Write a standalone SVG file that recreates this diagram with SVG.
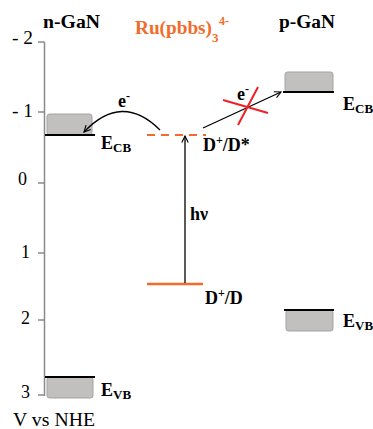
<svg xmlns="http://www.w3.org/2000/svg" width="373" height="429" viewBox="0 0 373 429">
<style>
text{font-family:"Liberation Serif","Times New Roman",serif;fill:#000}
.b{font-weight:bold}
.t{font-size:18px}
.band{fill:#c1c0bf;stroke:#a3a3a3;stroke-width:1}
.lvl{stroke:#000;stroke-width:2}
.ax{stroke:#8a8a8a;stroke-width:1.5;fill:none}
.or{fill:#f26b2a}
</style>
<defs>
<marker id="ah" viewBox="0 0 10 10" refX="9" refY="5" markerWidth="8" markerHeight="8" orient="auto" markerUnits="userSpaceOnUse">
<path d="M1,1 L9,5 L1,9" fill="none" stroke="#000" stroke-width="1.4"/>
</marker>
</defs>
<rect width="373" height="429" fill="#fff"/>
<g id="axis">
<path class="ax" d="M44.5,42 V396 M38,42 H44.5 M38,112 H44.5 M38,183 H44.5 M38,253 H44.5 M38,320 H44.5 M38,395 H44.5"/>
<text class="t" x="12" y="44" textLength="21" lengthAdjust="spacingAndGlyphs">- 2</text>
<text class="t" x="12" y="117" textLength="21" lengthAdjust="spacingAndGlyphs">- 1</text>
<text class="t" x="18" y="185">0</text>
<text class="t" x="21" y="258">1</text>
<text class="t" x="21" y="324">2</text>
<text class="t" x="21" y="398">3</text>
<text class="t" x="13" y="426" textLength="82" lengthAdjust="spacingAndGlyphs">V vs NHE</text>
</g>
<g id="n-GaN">
<text class="b t" x="43" y="28" textLength="57" lengthAdjust="spacingAndGlyphs">n-GaN</text>
<rect class="band" x="47" y="114" width="45" height="21" rx="2.5"/>
<line class="lvl" x1="45" y1="135" x2="95" y2="135"/>
<text class="b" font-size="18" x="101" y="149">E<tspan font-size="13" dy="3">CB</tspan></text>
<rect class="band" x="47" y="377" width="46" height="21" rx="2.5"/>
<line class="lvl" x1="45" y1="377" x2="95" y2="377"/>
<text class="b" font-size="18" x="101" y="396">E<tspan font-size="13" dy="3">VB</tspan></text>
</g>
<g id="dye">
<text class="b t or" x="135" y="34" textLength="77" lengthAdjust="spacingAndGlyphs">Ru(pbbs)</text>
<text class="b or" font-size="13" x="212" y="42">3</text>
<text class="b or" font-size="12" x="219" y="25">4-</text>
<line x1="147" y1="135" x2="206" y2="135" stroke="#f26b2a" stroke-width="2" stroke-dasharray="8,6"/>
<text class="b" font-size="18" x="203" y="151">D<tspan font-size="12" dy="-7">+</tspan><tspan dy="7">/D*</tspan></text>
<line x1="147" y1="284" x2="203" y2="284" stroke="#f26b2a" stroke-width="2.5"/>
<text class="b" font-size="18" x="205" y="304">D<tspan font-size="12" dy="-7">+</tspan><tspan dy="7">/D</tspan></text>
</g>
<g id="p-GaN">
<text class="b t" x="279" y="28" textLength="56" lengthAdjust="spacingAndGlyphs">p-GaN</text>
<rect class="band" x="285" y="72" width="48" height="20" rx="2.5"/>
<line class="lvl" x1="283" y1="92" x2="334" y2="92"/>
<text class="b" font-size="18" x="343" y="110">E<tspan font-size="13" dy="3">CB</tspan></text>
<rect class="band" x="286" y="310" width="47" height="21" rx="2.5"/>
<line class="lvl" x1="284" y1="310" x2="334" y2="310"/>
<text class="b" font-size="18" x="343" y="327">E<tspan font-size="13" dy="3">VB</tspan></text>
</g>
<g id="connectors">
<line x1="185" y1="283" x2="185" y2="136" stroke="#000" stroke-width="1.3" marker-end="url(#ah)"/>
<text class="b" font-size="18" x="190" y="220">hν</text>
<path d="M160,130 Q122,92 84,132" fill="none" stroke="#000" stroke-width="1.3" marker-end="url(#ah)"/>
<text class="b" font-size="18" x="118" y="107">e<tspan font-size="12" dy="-7">-</tspan></text>
<line x1="203" y1="128" x2="281" y2="92" stroke="#000" stroke-width="1.3" marker-end="url(#ah)"/>
<text class="b" font-size="18" x="237" y="100">e<tspan font-size="12" dy="-7">-</tspan></text>
<path d="M223,100 L268,113 M258,87 L238,125" stroke="#ec2227" stroke-width="2" fill="none"/>
</g>
</svg>
